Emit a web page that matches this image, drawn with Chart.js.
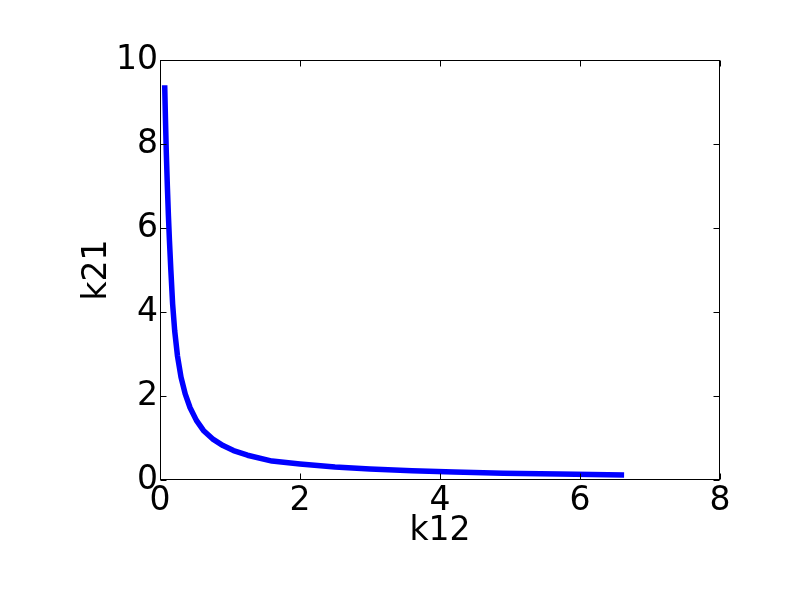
<!DOCTYPE html>
<html>
<head>
<meta charset="utf-8">
<script src="https://cdn.jsdelivr.net/npm/chart.js@4/dist/chart.umd.min.js"></script>
<style>html,body{margin:0;padding:0;background:#fff;}canvas{display:block;}</style>
</head>
<body>
<canvas id="c" width="800" height="600"></canvas>
<script>
const k12 = [0.067, 0.078, 0.09, 0.105, 0.12, 0.135, 0.155, 0.18, 0.21, 0.25, 0.3, 0.36, 0.43, 0.52, 0.62, 0.75, 0.9, 1.05, 1.25, 1.6, 2.0, 2.5, 3.0, 3.6, 4.2, 4.9, 5.7, 6.63];
const k21 = [9.4, 8.6, 7.8, 7.0, 6.3, 5.7, 5.0, 4.2, 3.55, 2.95, 2.45, 2.05, 1.72, 1.42, 1.18, 0.98, 0.82, 0.7, 0.59, 0.45, 0.38, 0.31, 0.26, 0.22, 0.19, 0.16, 0.14, 0.12];
const xTicks = [0, 2, 4, 6, 8];
const yTicks = [0, 2, 4, 6, 8, 10];
const xLabel = 'k12';
const yLabel = 'k21';

const points = k12.map((x, i) => ({x: x, y: k21[i]}));
const FONT = 'DejaVu Sans';

const frame = {
  id: 'frame',
  afterDraw(chart) {
    const {ctx, chartArea: a, scales} = chart;
    ctx.save();
    ctx.strokeStyle = '#000';
    ctx.lineWidth = 1;
    const L = Math.round(a.left) + 0.5, R = Math.round(a.right) - 0.5;
    const T = Math.round(a.top) + 0.5, B = Math.round(a.bottom) - 0.5;
    ctx.beginPath();
    const tl = 6;
    xTicks.forEach(v => {
      const p = Math.round(scales.x.getPixelForValue(v)) + 0.5;
      ctx.moveTo(p, B); ctx.lineTo(p, B - tl);
      ctx.moveTo(p, T); ctx.lineTo(p, T + tl);
    });
    yTicks.forEach(v => {
      const p = Math.round(scales.y.getPixelForValue(v)) + 0.5;
      ctx.moveTo(L, p); ctx.lineTo(L + tl, p);
      ctx.moveTo(R, p); ctx.lineTo(R - tl, p);
    });
    ctx.stroke();
    ctx.strokeRect(L, T, R - L, B - T);
    ctx.restore();
  }
};

new Chart(document.getElementById('c'), {
  type: 'scatter',
  data: {
    datasets: [{
      data: points,
      showLine: true,
      borderColor: '#0000ff',
      backgroundColor: '#0000ff',
      borderWidth: 5.5,
      borderCapStyle: 'butt',
      borderJoinStyle: 'round',
      pointRadius: 0,
      tension: 0
    }]
  },
  options: {
    responsive: false,
    animation: false,
    layout: {padding: {top: 60, right: 80, bottom: 0, left: 0}},
    plugins: {legend: {display: false}, tooltip: {enabled: false}},
    scales: {
      x: {
        type: 'linear', min: 0, max: 8,
        afterFit(s) { s.height = 120; },
        afterBuildTicks(s) { s.ticks = xTicks.map(v => ({value: v})); },
        grid: {display: false, drawTicks: false},
        border: {display: false},
        ticks: {color: '#000', font: {family: FONT, size: 33}, padding: 2, maxRotation: 0, autoSkip: false},
        title: {display: true, text: xLabel, color: '#000', font: {family: FONT, size: 33}, padding: {top: 0, bottom: 49}}
      },
      y: {
        type: 'linear', min: 0, max: 10,
        afterFit(s) { s.width = 160; },
        afterBuildTicks(s) { s.ticks = yTicks.map(v => ({value: v})); },
        grid: {display: false, drawTicks: false},
        border: {display: false},
        ticks: {color: '#000', font: {family: FONT, size: 33}, padding: 2, autoSkip: false},
        title: {display: true, text: yLabel, color: '#000', font: {family: FONT, size: 33}, padding: {top: 78, bottom: 0}}
      }
    }
  },
  plugins: [frame]
});
</script>
</body>
</html>
